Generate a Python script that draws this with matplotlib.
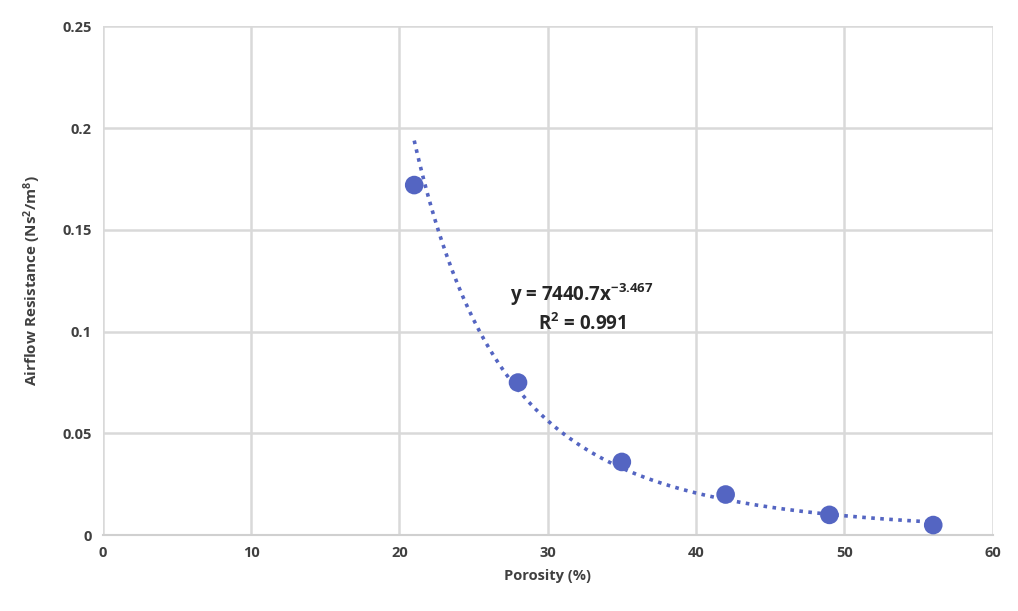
import numpy as np
import matplotlib
matplotlib.use("Agg")
import matplotlib.pyplot as plt

porosity = [21, 28, 35, 42, 49, 56]
resistance = [0.172, 0.075, 0.036, 0.020, 0.010, 0.005]
fit_a = 7440.7
fit_b = -3.467
x_ticks = [0, 10, 20, 30, 40, 50, 60]
y_ticks = [0, 0.05, 0.1, 0.15, 0.2, 0.25]
y_tick_labels = ["0", "0.05", "0.1", "0.15", "0.2", "0.25"]

plt.rcParams['font.family'] = ['Open Sans', 'DejaVu Sans']
plt.rcParams['mathtext.fontset'] = 'custom'
plt.rcParams['mathtext.rm'] = 'Open Sans:bold'
plt.rcParams['mathtext.it'] = 'Open Sans:bold'
plt.rcParams['mathtext.bf'] = 'Open Sans:bold'
color = '#5465C2'
text_color = '#404040'

fig = plt.figure(figsize=(10.18, 6.11), dpi=100)
ax = fig.add_axes([0.101, 0.124, 0.874, 0.833])

xf = np.linspace(porosity[0], porosity[-1], 300)
ax.plot(xf, fit_a * xf ** fit_b, linestyle=(0, (1, 1.5)), color=color, lw=2.6, zorder=2)
ax.scatter(porosity, resistance, s=180, color=color, zorder=3, edgecolors='none')

ax.set_xlim(0, 60)
ax.set_ylim(0, 0.25)
ax.set_xticks(x_ticks)
ax.set_yticks(y_ticks)
ax.set_yticklabels(y_tick_labels)
ax.grid(True, color='#d9d9d9', lw=1.8)
ax.set_axisbelow(True)
for s in ['top', 'right', 'left']:
    ax.spines[s].set_visible(False)
ax.spines['bottom'].set_color('#d0d0d0')
ax.spines['bottom'].set_linewidth(1.5)
ax.tick_params(length=0, labelsize=10.5, labelcolor=text_color, pad=8)
for lbl in ax.get_xticklabels() + ax.get_yticklabels():
    lbl.set_fontweight('bold')

ax.set_xlabel('Porosity (%)', fontsize=10.5, fontweight='bold', color=text_color, labelpad=6)
ax.set_ylabel('Airflow Resistance (Ns$^{\\mathrm{2}}$/m$^{\\mathrm{8}}$)', fontsize=11, fontweight='bold', color=text_color, labelpad=14)

ax.text(32.3, 0.118, 'y = 7440.7x$^{\\mathrm{-3.467}}$', ha='center', va='center', fontsize=13.5, fontweight='bold', color='#262626')
ax.text(32.3, 0.1035, 'R$^{\\mathrm{2}}$ = 0.991', ha='center', va='center', fontsize=13.5, fontweight='bold', color='#262626')

fig.savefig('out.png', dpi=100)
